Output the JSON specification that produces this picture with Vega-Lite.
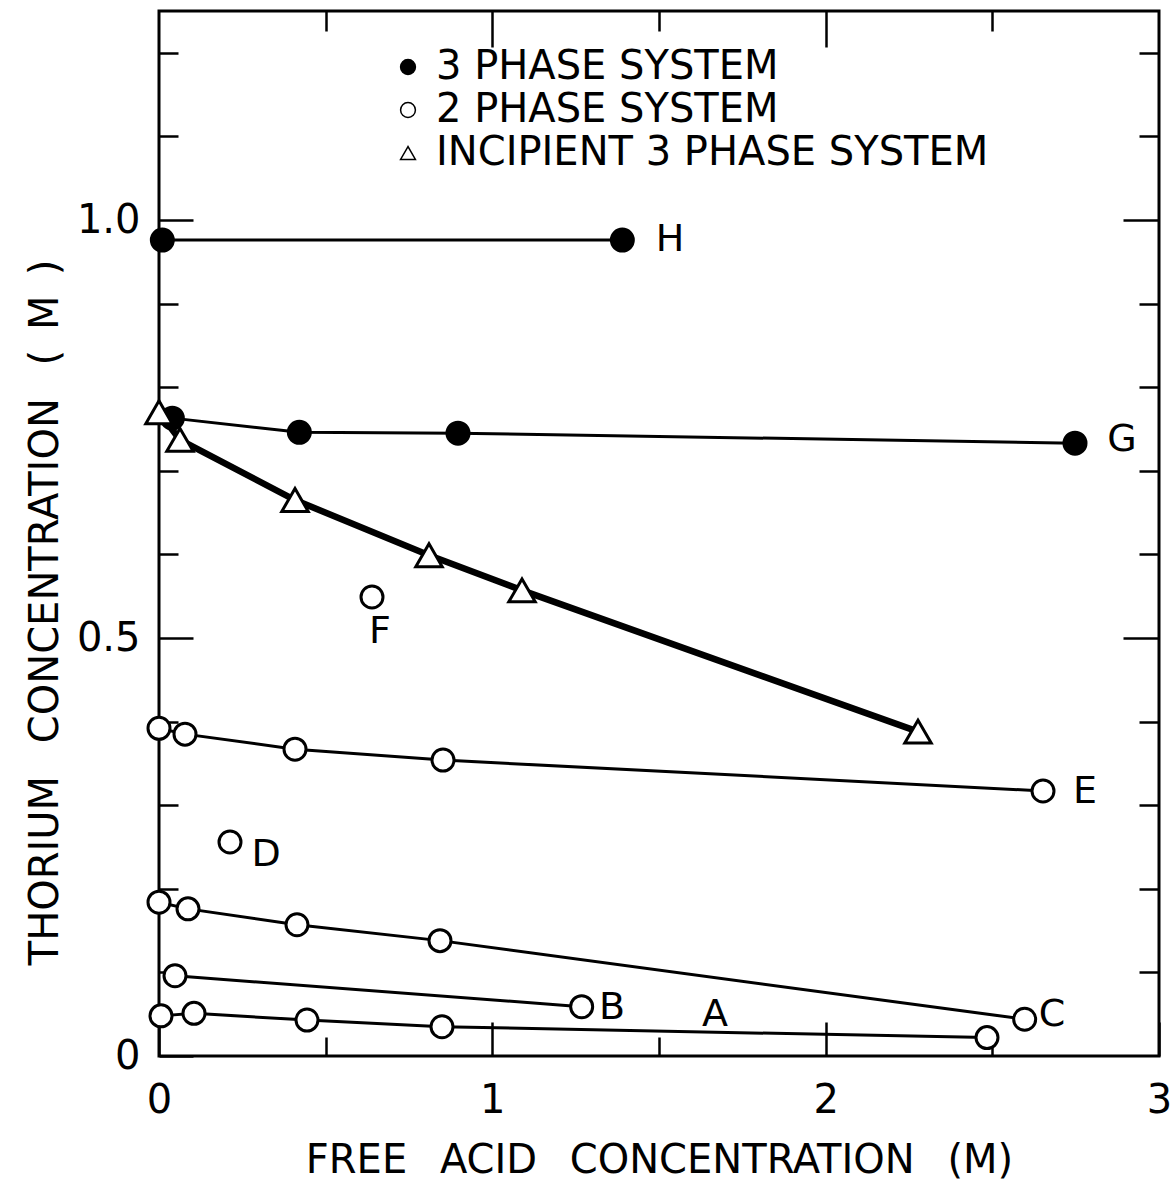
{
  "$schema": "https://vega.github.io/schema/vega-lite/v6.json",
  "width": 1000,
  "height": 1045,
  "autosize": "none",
  "padding": {"left": 159, "top": 11, "right": 14, "bottom": 131},
  "background": "white",
  "config": {
    "font": "DejaVu Sans",
    "view": {"stroke": "black", "strokeWidth": 3},
    "axis": {"grid": false, "domain": false, "tickColor": "black", "tickWidth": 2.5, "labelColor": "black", "titleColor": "black", "labelFont": "DejaVu Sans", "titleFont": "DejaVu Sans", "titleFontWeight": "normal"},
    "legend": {"labelFont": "DejaVu Sans"}
  },
  "datasets": {
    "pts": [
      {"series": "H", "phase": "3 PHASE SYSTEM", "acid": 0.01, "thorium": 0.976},
      {"series": "H", "phase": "3 PHASE SYSTEM", "acid": 1.39, "thorium": 0.976},
      {"series": "G", "phase": "3 PHASE SYSTEM", "acid": 0.04, "thorium": 0.763},
      {"series": "G", "phase": "3 PHASE SYSTEM", "acid": 0.421, "thorium": 0.746},
      {"series": "G", "phase": "3 PHASE SYSTEM", "acid": 0.897, "thorium": 0.745},
      {"series": "G", "phase": "3 PHASE SYSTEM", "acid": 2.748, "thorium": 0.733},
      {"series": "I", "phase": "INCIPIENT 3 PHASE SYSTEM", "acid": 0.0, "thorium": 0.77},
      {"series": "I", "phase": "INCIPIENT 3 PHASE SYSTEM", "acid": 0.063, "thorium": 0.737},
      {"series": "I", "phase": "INCIPIENT 3 PHASE SYSTEM", "acid": 0.408, "thorium": 0.665},
      {"series": "I", "phase": "INCIPIENT 3 PHASE SYSTEM", "acid": 0.81, "thorium": 0.599},
      {"series": "I", "phase": "INCIPIENT 3 PHASE SYSTEM", "acid": 1.089, "thorium": 0.557},
      {"series": "I", "phase": "INCIPIENT 3 PHASE SYSTEM", "acid": 2.277, "thorium": 0.388},
      {"series": "F", "phase": "2 PHASE SYSTEM", "acid": 0.639, "thorium": 0.549},
      {"series": "E", "phase": "2 PHASE SYSTEM", "acid": 0.0, "thorium": 0.392},
      {"series": "E", "phase": "2 PHASE SYSTEM", "acid": 0.078, "thorium": 0.385},
      {"series": "E", "phase": "2 PHASE SYSTEM", "acid": 0.408, "thorium": 0.367},
      {"series": "E", "phase": "2 PHASE SYSTEM", "acid": 0.852, "thorium": 0.354},
      {"series": "E", "phase": "2 PHASE SYSTEM", "acid": 2.652, "thorium": 0.317},
      {"series": "D", "phase": "2 PHASE SYSTEM", "acid": 0.213, "thorium": 0.256},
      {"series": "C", "phase": "2 PHASE SYSTEM", "acid": 0.0, "thorium": 0.184},
      {"series": "C", "phase": "2 PHASE SYSTEM", "acid": 0.087, "thorium": 0.176},
      {"series": "C", "phase": "2 PHASE SYSTEM", "acid": 0.414, "thorium": 0.157},
      {"series": "C", "phase": "2 PHASE SYSTEM", "acid": 0.843, "thorium": 0.138},
      {"series": "C", "phase": "2 PHASE SYSTEM", "acid": 2.597, "thorium": 0.044},
      {"series": "B", "phase": "2 PHASE SYSTEM", "acid": 0.048, "thorium": 0.096},
      {"series": "B", "phase": "2 PHASE SYSTEM", "acid": 1.268, "thorium": 0.059},
      {"series": "A", "phase": "2 PHASE SYSTEM", "acid": 0.006, "thorium": 0.048},
      {"series": "A", "phase": "2 PHASE SYSTEM", "acid": 0.105, "thorium": 0.051},
      {"series": "A", "phase": "2 PHASE SYSTEM", "acid": 0.444, "thorium": 0.043},
      {"series": "A", "phase": "2 PHASE SYSTEM", "acid": 0.849, "thorium": 0.035},
      {"series": "A", "phase": "2 PHASE SYSTEM", "acid": 2.484, "thorium": 0.022}
    ],
    "labels": [
      {"letter": "H", "acid": 1.533, "thorium": 0.976},
      {"letter": "G", "acid": 2.889, "thorium": 0.737},
      {"letter": "F", "acid": 0.663, "thorium": 0.507},
      {"letter": "E", "acid": 2.778, "thorium": 0.316},
      {"letter": "D", "acid": 0.321, "thorium": 0.24},
      {"letter": "C", "acid": 2.679, "thorium": 0.049},
      {"letter": "B", "acid": 1.359, "thorium": 0.057},
      {"letter": "A", "acid": 1.668, "thorium": 0.049}
    ]
  },
  "resolve": {"axis": {"x": "independent", "y": "independent"}},
  "layer": [
    {
      "data": {"name": "pts"},
      "transform": [{"filter": "datum.series != 'I' && datum.series != 'D' && datum.series != 'F'"}],
      "mark": {"type": "line", "color": "black", "strokeWidth": 3},
      "encoding": {
        "x": {"field": "acid", "type": "quantitative", "scale": {"domain": [0, 3], "nice": false, "zero": false},
          "axis": {"orient": "bottom", "values": [0, 0.5, 1, 1.5, 2, 2.5, 3],
            "tickSize": {"condition": {"test": "datum.value % 1 == 0", "value": -34}, "value": -19},
            "labelExpr": "datum.value % 1 == 0 ? format(datum.value, 'd') : ''",
            "labelFlush": false, "labelOverlap": false,
            "labelFontSize": 40, "labelPadding": 58,
            "title": "FREE\u2002 ACID\u2002 CONCENTRATION\u2002 (M)", "titleFontSize": 40,
            "titleY": 104, "titleBaseline": "middle", "titleAlign": "center"}},
        "y": {"field": "thorium", "type": "quantitative", "scale": {"domain": [0, 1.25], "nice": false, "zero": false},
          "axis": {"orient": "left", "values": [0, 0.1, 0.2, 0.3, 0.4, 0.5, 0.6, 0.7, 0.8, 0.9, 1.0, 1.1, 1.2],
            "tickSize": {"condition": {"test": "abs(datum.value * 2 - round(datum.value * 2)) < 0.001", "value": -34}, "value": -19},
            "labelExpr": "datum.value == 0 ? '0' : (abs(datum.value - 0.5) < 0.001 ? '0.5' : (abs(datum.value - 1) < 0.001 ? '1.0' : ''))",
            "labelFlush": false, "labelOverlap": false,
            "labelFontSize": 40, "labelPadding": 53,
            "title": "THORIUM\u2002 CONCENTRATION\u2002 (\u2002M\u2002)", "titleFontSize": 40, "titleAngle": -90,
            "titleX": -114, "titleY": 601, "titleAlign": "center", "titleBaseline": "middle"}},
        "detail": {"field": "series"}
      }
    },
    {
      "data": {"name": "pts"},
      "transform": [{"filter": "datum.series == 'I'"}],
      "mark": {"type": "line", "color": "black", "strokeWidth": 6.5},
      "encoding": {
        "x": {"field": "acid", "type": "quantitative",
          "axis": {"orient": "top", "values": [0.5, 1, 1.5, 2, 2.5],
            "tickSize": {"condition": {"test": "datum.value % 1 == 0", "value": -36}, "value": -20},
            "labels": false, "title": null}},
        "y": {"field": "thorium", "type": "quantitative",
          "axis": {"orient": "right", "values": [0.1, 0.2, 0.3, 0.4, 0.5, 0.6, 0.7, 0.8, 0.9, 1.0, 1.1, 1.2],
            "tickSize": {"condition": {"test": "abs(datum.value * 2 - round(datum.value * 2)) < 0.001", "value": -36}, "value": -20},
            "labels": false, "title": null}}
      }
    },
    {
      "data": {"name": "pts"},
      "transform": [{"filter": "datum.series != 'I'"}],
      "mark": {"type": "point", "stroke": "black", "strokeWidth": 3, "opacity": 1, "size": 484},
      "encoding": {
        "x": {"field": "acid", "type": "quantitative", "axis": null},
        "y": {"field": "thorium", "type": "quantitative", "axis": null},
        "shape": {"field": "phase", "type": "nominal",
          "scale": {"domain": ["3 PHASE SYSTEM", "2 PHASE SYSTEM", "INCIPIENT 3 PHASE SYSTEM"], "range": ["circle", "circle", "triangle-up"]},
          "legend": {"orient": "none", "legendX": 229, "legendY": 36, "title": null, "labelFontSize": 40, "labelColor": "black", "labelLimit": 0,
            "symbolSize": 220, "labelOffset": 8, "rowPadding": 3, "padding": 0,
            "encode": {"symbols": {"update": {"stroke": {"value": "black"}, "strokeWidth": {"value": 2.5}, "opacity": {"value": 1}}}}}},
        "fill": {"field": "phase", "type": "nominal",
          "scale": {"domain": ["3 PHASE SYSTEM", "2 PHASE SYSTEM", "INCIPIENT 3 PHASE SYSTEM"], "range": ["black", "white", "white"]},
          "legend": {"orient": "none", "legendX": 229, "legendY": 36, "title": null, "labelFontSize": 40, "labelColor": "black", "labelLimit": 0,
            "symbolSize": 220, "labelOffset": 8, "rowPadding": 3, "padding": 0,
            "encode": {"symbols": {"update": {"stroke": {"value": "black"}, "strokeWidth": {"value": 2.5}, "opacity": {"value": 1}}}}}}
      }
    },
    {
      "data": {"name": "pts"},
      "transform": [{"filter": "datum.series == 'I'"}],
      "mark": {"type": "point", "shape": "triangle-up", "fill": "white", "stroke": "black", "strokeWidth": 3, "opacity": 1, "size": 700},
      "encoding": {
        "x": {"field": "acid", "type": "quantitative", "axis": null},
        "y": {"field": "thorium", "type": "quantitative", "axis": null}
      }
    },
    {
      "data": {"name": "labels"},
      "mark": {"type": "text", "fontSize": 38, "color": "black", "align": "center", "baseline": "middle"},
      "encoding": {
        "x": {"field": "acid", "type": "quantitative", "axis": null},
        "y": {"field": "thorium", "type": "quantitative", "axis": null},
        "text": {"field": "letter"}
      }
    }
  ]
}
